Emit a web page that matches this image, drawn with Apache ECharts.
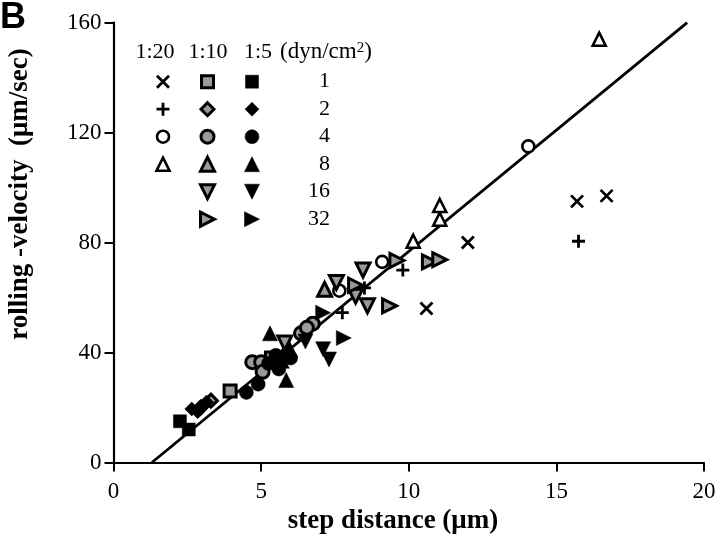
<!DOCTYPE html>
<html><head><meta charset="utf-8">
<script src="https://cdn.jsdelivr.net/npm/echarts@6/dist/echarts.min.js"></script>
<style>html,body{margin:0;padding:0;background:#fff}#c{width:720px;height:558px}</style>
</head><body><div id="c"></div><script>
// ---- data ----
const ratioCols = ['1:20', '1:10', '1:5'];
const unitLabel = '(dyn/cm';
const stressRows = ['1', '2', '4', '8', '16', '32'];
const xTickValues = [0, 5, 10, 15, 20];
const yTickValues = [0, 40, 80, 120, 160];
// 1:20
const r20_s1 = [[10.6, 56], [12.0, 80], [15.7, 95], [16.7, 97]];
const r20_s2 = [[7.75, 54.5], [8.5, 63.5], [9.8, 70], [15.75, 80.5]];
const r20_s4 = [[7.65, 62.5], [9.1, 73], [14.05, 115]];
const r20_s8 = [[10.15, 80.5], [11.05, 88.5], [11.05, 93.5], [16.45, 154]];
// 1:10
const r10_s1 = [[3.95, 26], [5.35, 38]];
const r10_s2 = [[3.3, 22.5], [2.95, 20]];
const r10_s4 = [[4.7, 36.5], [5.0, 36.5], [5.05, 33], [6.35, 47], [6.75, 50.5], [6.55, 49]];
const r10_s8 = [[7.15, 63], [5.9, 42]];
const r10_s16 = [[7.55, 65.5], [8.2, 60.5], [8.45, 70], [8.6, 57], [5.8, 43.5]];
const r10_s32 = [[8.2, 64.5], [9.35, 57], [9.6, 73.5], [10.7, 73], [11.05, 73.8]];
// 1:5
const r5_s1 = [[2.25, 15], [2.55, 12]];
const r5_s2 = [[2.65, 19.5], [2.85, 18.5], [3.15, 22], [3.0, 20.5]];
const r5_s4 = [[4.5, 25.5], [4.9, 28.5], [5.25, 36], [5.6, 34], [6.0, 38], [5.5, 39]];
const r5_s8 = [[5.3, 47], [5.85, 30], [5.9, 41], [5.7, 37]];
const r5_s16 = [[7.1, 41.2], [7.3, 37.5], [6.5, 44]];
const r5_s32 = [[7.1, 54.5], [7.8, 45.3], [6.0, 38.5]];
// regression line end points
const fitX = [1.3, 19.43];
const fitY = [0, 160];

// ---- styles ----
const SERIF = "'Liberation Serif','Times New Roman',serif";
const PATH_X = 'path://M0,0L10,10M10,0L0,10';
const PATH_PLUS = 'path://M5,0L5,10M0,5L10,5';
const styles = {
  line: {color: 'rgba(0,0,0,0)', borderColor: '#000', borderWidth: 2.8, opacity: 1},
  open: {color: '#fff', borderColor: '#000', borderWidth: 2.6, opacity: 1},
  gray: {color: '#9a9a9a', borderColor: '#000', borderWidth: 3, opacity: 1},
  black: {color: '#000', borderColor: '#000', borderWidth: 0.5, opacity: 1}
};
const specs = [
  {d: r20_s1, col: 0, row: 0, sym: PATH_X, size: 12, st: 'line'},
  {d: r20_s2, col: 0, row: 1, sym: PATH_PLUS, size: 13, st: 'line'},
  {d: r20_s4, col: 0, row: 2, sym: 'circle', size: 12, st: 'open'},
  {d: r20_s8, col: 0, row: 3, sym: 'triangle', size: 13, st: 'open'},
  {d: r10_s1, col: 1, row: 0, sym: 'rect', size: 12, st: 'gray'},
  {d: r10_s2, col: 1, row: 1, sym: 'diamond', size: 13, st: 'gray'},
  {d: r10_s4, col: 1, row: 2, sym: 'circle', size: 13, st: 'gray'},
  {d: r10_s8, col: 1, row: 3, sym: 'triangle', size: 14, st: 'gray'},
  {d: r10_s16, col: 1, row: 4, sym: 'triangle', rot: 180, size: 14, st: 'gray'},
  {d: r10_s32, col: 1, row: 5, sym: 'triangle', rot: -90, size: 14, st: 'gray'},
  {d: r5_s1, col: 2, row: 0, sym: 'rect', size: 13, st: 'black'},
  {d: r5_s2, col: 2, row: 1, sym: 'diamond', size: 14, st: 'black'},
  {d: r5_s4, col: 2, row: 2, sym: 'circle', size: 14, st: 'black'},
  {d: r5_s8, col: 2, row: 3, sym: 'triangle', size: 15, st: 'black'},
  {d: r5_s16, col: 2, row: 4, sym: 'triangle', rot: 180, size: 15, st: 'black'},
  {d: r5_s32, col: 2, row: 5, sym: 'triangle', rot: -90, size: 15, st: 'black'}
];

const series = [{
  type: 'line', xAxisIndex: 0, yAxisIndex: 0,
  data: fitX.map((x, i) => [x, fitY[i]]),
  showSymbol: false, symbol: 'none', silent: true, z: 1,
  lineStyle: {color: '#000', width: 2.8}
}];
specs.forEach(s => {
  series.push({
    type: 'scatter', xAxisIndex: 0, yAxisIndex: 0, data: s.d, z: 3,
    symbol: s.sym, symbolSize: s.size, symbolRotate: s.rot || 0,
    itemStyle: styles[s.st]
  });
  series.push({
    type: 'scatter', xAxisIndex: 1, yAxisIndex: 1, data: [[s.col, s.row]], z: 3,
    symbol: s.sym, symbolSize: s.size, symbolRotate: s.rot || 0,
    itemStyle: styles[s.st]
  });
});

const chart = echarts.init(document.getElementById('c'), null, {renderer: 'canvas'});
chart.setOption({
  animation: false,
  backgroundColor: '#fff',
  grid: [
    {left: 113.5, right: 16, top: 22.7, bottom: 95.5},
    {left: 163, width: 89, top: 81.7, height: 137.5}
  ],
  xAxis: [{
    type: 'value', min: xTickValues[0], max: xTickValues[xTickValues.length - 1], interval: 5,
    gridIndex: 0, splitLine: {show: false},
    axisLine: {onZero: false, lineStyle: {color: '#000', width: 2.2}},
    axisTick: {inside: false, length: 9, lineStyle: {color: '#000', width: 2}},
    axisLabel: {color: '#000', fontFamily: SERIF, fontSize: 23, margin: 18}
  }, {
    type: 'value', gridIndex: 1, min: 0, max: 2, show: false
  }],
  yAxis: [{
    type: 'value', min: yTickValues[0], max: yTickValues[yTickValues.length - 1], interval: 40,
    gridIndex: 0, splitLine: {show: false},
    axisLine: {onZero: false, lineStyle: {color: '#000', width: 2.2}},
    axisTick: {inside: false, length: 9, lineStyle: {color: '#000', width: 2}},
    axisLabel: {color: '#000', fontFamily: SERIF, fontSize: 23, margin: 12}
  }, {
    type: 'value', gridIndex: 1, min: 0, max: 5, inverse: true, interval: 1,
    position: 'right', splitLine: {show: false},
    axisLine: {show: false}, axisTick: {show: false},
    axisLabel: {
      color: '#000', fontFamily: SERIF, fontSize: 22, margin: 78, align: 'right',
      formatter: v => stressRows[v] || ''
    }
  }],
  graphic: [
    {type: 'text', x: 0, y: 36, style: {text: 'B', font: "bold 36px 'Liberation Sans', Arial, sans-serif", fill: '#000', align: 'left', verticalAlign: 'bottom'}},
    {type: 'text', x: 155, y: 52, style: {text: ratioCols[0], font: '22px ' + SERIF, fill: '#000', align: 'center', verticalAlign: 'middle'}},
    {type: 'text', x: 208, y: 52, style: {text: ratioCols[1], font: '22px ' + SERIF, fill: '#000', align: 'center', verticalAlign: 'middle'}},
    {type: 'text', x: 244, y: 52, style: {text: ratioCols[2], font: '22px ' + SERIF, fill: '#000', align: 'left', verticalAlign: 'middle'}},
    {type: 'text', x: 280, y: 52, style: {
      text: unitLabel + '{s|2}' + ')', font: '23px ' + SERIF, fill: '#000', align: 'left', verticalAlign: 'middle',
      rich: {s: {fontSize: 15, fontFamily: SERIF, verticalAlign: 'top', padding: [0, 0, 8, 0], fill: '#000'}}
    }},
    {type: 'text', x: 20, y: 194, rotation: Math.PI / 2,
      style: {text: 'rolling -velocity  (\u03BCm/sec)', font: 'bold 27px ' + SERIF, fill: '#000', align: 'center', verticalAlign: 'middle'}},
    {type: 'text', x: 393, y: 521,
      style: {text: 'step distance (\u03BCm)', font: 'bold 27px ' + SERIF, fill: '#000', align: 'center', verticalAlign: 'middle'}}
  ],
  series: series
});
</script></body></html>
